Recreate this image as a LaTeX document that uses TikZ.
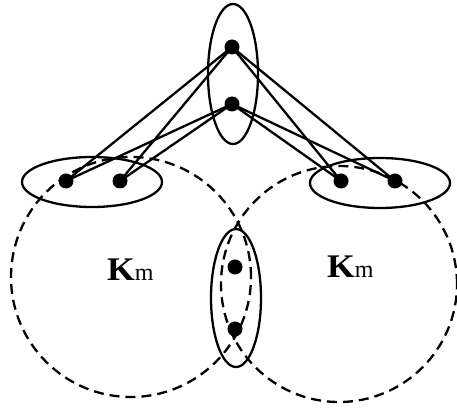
\documentclass[tikz,border=0pt]{standalone}
\usepackage{fontspec}
\setmainfont{Liberation Serif}
\usetikzlibrary{shapes.geometric}
\tikzset{
    dot/.style={circle,fill,inner sep=0pt,minimum size=15pt},
    oval/.style={ellipse,draw,line width=2.3pt,inner sep=0pt},
    clique/.style={draw,line width=2.3pt,dash pattern=on 10pt off 6pt},
    edge/.style={line width=2.3pt},
    lbl/.style={font=\fontsize{33}{36}\selectfont,inner sep=0pt,anchor=base west}
}
\newcommand{\kname}{\scalebox{1.08}[1]{\textbf{K}}{\fontsize{24}{26}\selectfont m}}

\begin{document}
\begin{tikzpicture}[x=1pt,y=1pt]
    \useasboundingbox (0,0) rectangle (457,409);
    % the two cliques
    \draw[clique] (131,132) circle (120);
    \draw[clique] (339,125) circle (118);
    % groups
    \node[oval,minimum width=50pt,minimum height=140pt] (top) at (233,335) {};
    \node[oval,minimum width=140pt,minimum height=50pt] (left) at (92,227) {};
    \node[oval,minimum width=140pt,minimum height=50pt] (right) at (380,226) {};
    \node[oval,minimum width=50pt,minimum height=138pt] (shared) at (236,111) {};
    % vertices
    \node[dot] (t1) at (232,362) {};
    \node[dot] (t2) at (232,305) {};
    \node[dot] (l1) at (66,228) {};
    \node[dot] (l2) at (120,228) {};
    \node[dot] (r1) at (341,228) {};
    \node[dot] (r2) at (395,228) {};
    \node[dot] (s1) at (235,142) {};
    \node[dot] (s2) at (235,80) {};
    \foreach \a in {t1,t2}
        \foreach \b in {l1,l2,r1,r2}
            \draw[edge] (\a.center) -- (\b.center);
    % labels
    \node[lbl] (kleft) at (107,128) {\kname};
    \node[lbl] (kright) at (327,131) {\kname};
\end{tikzpicture}
\end{document}
